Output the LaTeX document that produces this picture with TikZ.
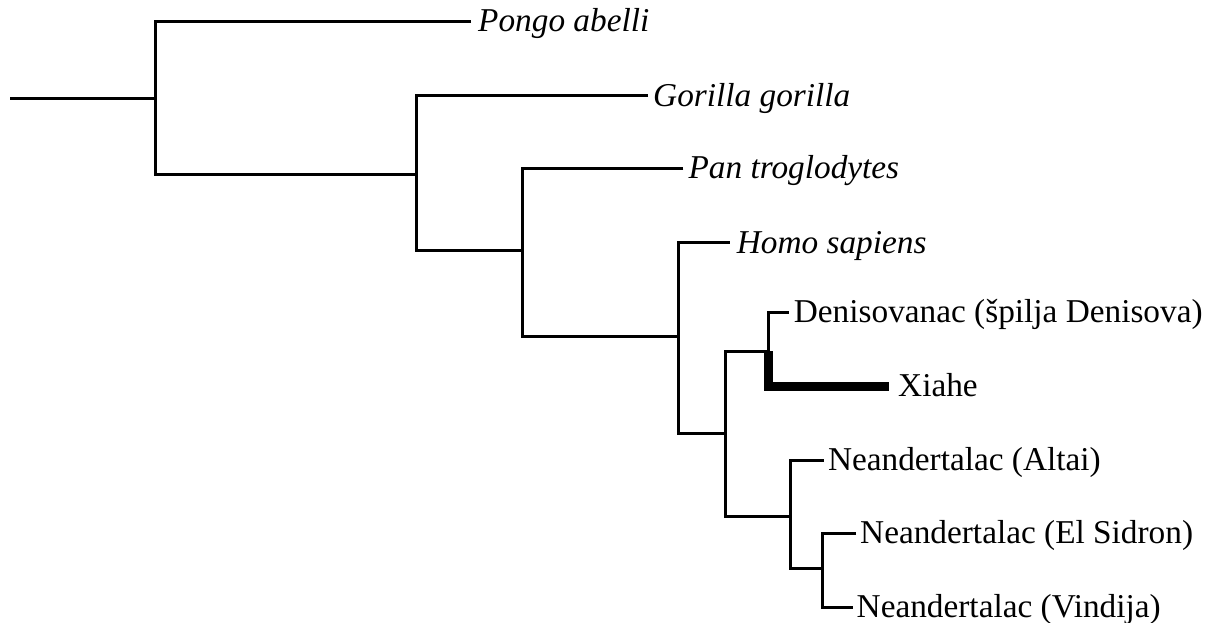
\documentclass[tikz,border=0pt]{standalone}
\usepackage{fontspec}
\setmainfont{Liberation Serif}
\begin{document}
\begin{tikzpicture}[x=1pt,y=-1pt,line join=miter,
  branch/.style={line width=3pt},
  heavy/.style={line width=9pt},
  leaf/.style={anchor=base west,inner sep=0pt,font=\fontsize{33.3}{40}\selectfont,xshift=5pt,yshift=-10.5pt},
  sp/.style={leaf,font=\fontsize{33.3}{40}\selectfont\itshape}]
\useasboundingbox (0,0) rectangle (1212,623);
% tree coordinates
\coordinate (R) at (10,98.5);
\coordinate (N1) at (155,98.5);
\coordinate (tPongo) at (471,21.5);
\coordinate (N2) at (416.7,174);
\coordinate (tGorilla) at (648,96);
\coordinate (N3) at (522,250.7);
\coordinate (tPan) at (683.4,168.3);
\coordinate (N4) at (678,336);
\coordinate (tHomo) at (729.7,242.7);
\coordinate (N5) at (725.3,433.3);
\coordinate (N6) at (768,351);
\coordinate (tDen) at (788.7,312.3);
\coordinate (tXia) at (889,386.2);
\coordinate (N7) at (790,516.7);
\coordinate (tAltai) at (823.8,460);
\coordinate (N8) at (822,568.3);
\coordinate (tSid) at (856,533.3);
\coordinate (tVin) at (852.5,607.3);
% branches
\draw[branch] (R) -- (N1);
\draw[branch] (tPongo) -| (N1) |- (N2);
\draw[branch] (tGorilla) -| (N2) |- (N3);
\draw[branch] (tPan) -| (N3) |- (N4);
\draw[branch] (tHomo) -| (N4) |- (N5);
\draw[branch] (N6) -| (N5) |- (N7);
\draw[branch] (tDen) -| (N6);
\draw[heavy] (N6) |- (tXia);
\draw[branch] (tAltai) -| (N7) |- (N8);
\draw[branch] (tSid) -| (N8) |- (tVin);
% labels
\node[sp,xshift=2pt] (pongo) at (tPongo) {Pongo abelli};
\node[sp] (gorilla) at (tGorilla) {Gorilla gorilla};
\node[sp] (pan) at (tPan) {Pan troglodytes};
\node[sp,xshift=2pt] (homo) at (tHomo) {Homo sapiens};
\node[leaf] (den) at (tDen) {Denisovanac (špilja Denisova)};
\node[leaf,xshift=4pt] (xia) at (tXia) {Xiahe};
\node[leaf,xshift=-1pt] (altai) at (tAltai) {Neandertalac (Altai)};
\node[leaf,xshift=-1pt] (sid) at (tSid) {Neandertalac (El Sidron)};
\node[leaf,xshift=-1pt] (vin) at (tVin) {Neandertalac (Vindija)};
\end{tikzpicture}
\end{document}
